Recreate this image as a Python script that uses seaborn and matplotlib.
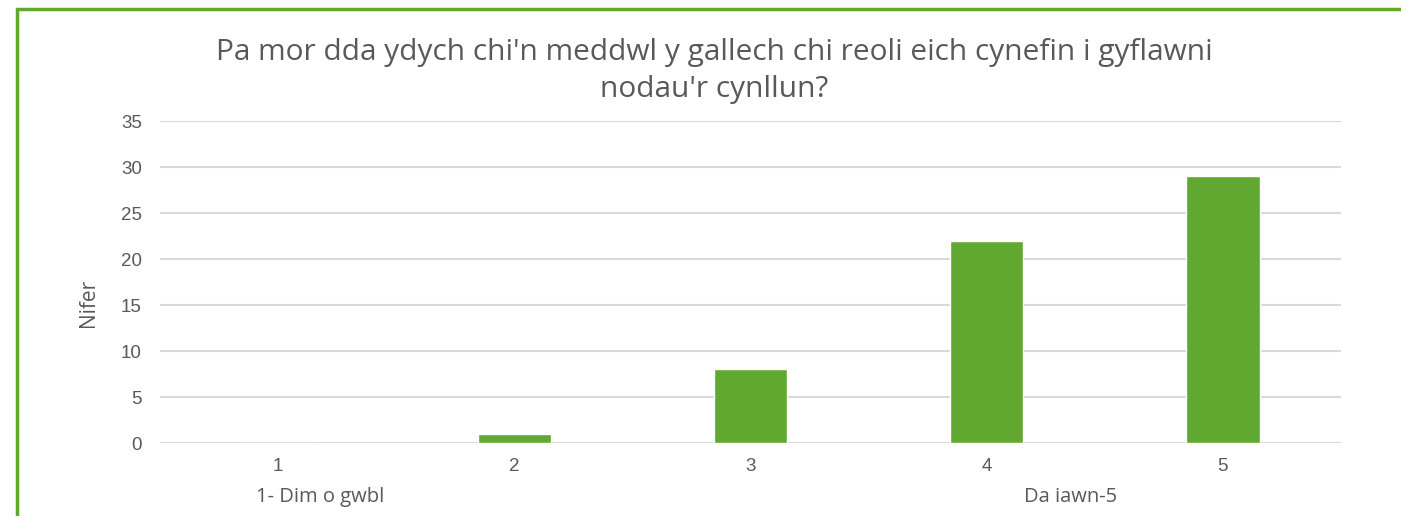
import matplotlib
matplotlib.use("Agg")
import matplotlib.pyplot as plt
import seaborn as sns
import pandas as pd
from matplotlib.lines import Line2D

categories = ["1", "2", "3", "4", "5"]
counts = [0, 1, 8, 22, 29]
yticks = [0, 5, 10, 15, 20, 25, 30, 35]
title_text = "Pa mor dda ydych chi'n meddwl y gallech chi reoli eich cynefin i gyflawni\nnodau'r cynllun?"
ylabel_text = "Nifer"
low_label = "1- Dim o gwbl"
high_label = "Da iawn-5"

sns.set_style("white")
plt.rcParams['font.family'] = ['Open Sans', 'DejaVu Sans']

W, H = 1401, 516
fig = plt.figure(figsize=(W / 100, H / 100), dpi=100)
ax = fig.add_axes([160 / W, 1 - 443 / H, (1341 - 160) / W, (443 - 121) / H])

df = pd.DataFrame({"cat": categories, "n": counts})
sns.barplot(data=df, x="cat", y="n", color="#60A830", saturation=1, width=0.31, ax=ax)

ax.set_ylim(0, 35)
ax.set_yticks(yticks)
ax.yaxis.grid(True, color="#D9D9D9", linewidth=1.5)
ax.set_axisbelow(True)
for s in ax.spines.values():
    s.set_visible(False)
ax.tick_params(axis="both", length=0, labelsize=13.5, colors="#595959")
ax.tick_params(axis="x", pad=11)
ax.tick_params(axis="y", pad=13)
for lab in ax.get_xticklabels() + ax.get_yticklabels():
    lab.set_family(['Liberation Sans', 'DejaVu Sans'])
ax.set_xlabel("")
ax.set_ylabel(ylabel_text, fontsize=15, color="#595959")
ax.yaxis.set_label_coords((99 - 160) / (1341 - 160), (443 - 303) / (443 - 121))

fig.text(714 / W, 1 - 71 / H, title_text, ha="center", va="center",
         fontsize=21.5, color="#595959", linespacing=1.38)
fig.text(320 / W, 1 - 497 / H, low_label, ha="center", va="center", fontsize=14.5, color="#595959")
fig.text(1071 / W, 1 - 497 / H, high_label, ha="center", va="center", fontsize=14.5, color="#595959")

# green frame
fig.add_artist(Line2D([17 / W, 17 / W], [0, 1 - 9 / H], transform=fig.transFigure, color="#5FAA2E", linewidth=2.5))
fig.add_artist(Line2D([17 / W, 1], [1 - 9 / H, 1 - 9 / H], transform=fig.transFigure, color="#5FAA2E", linewidth=2.5))

fig.savefig("out.png", dpi=100, facecolor="white")
